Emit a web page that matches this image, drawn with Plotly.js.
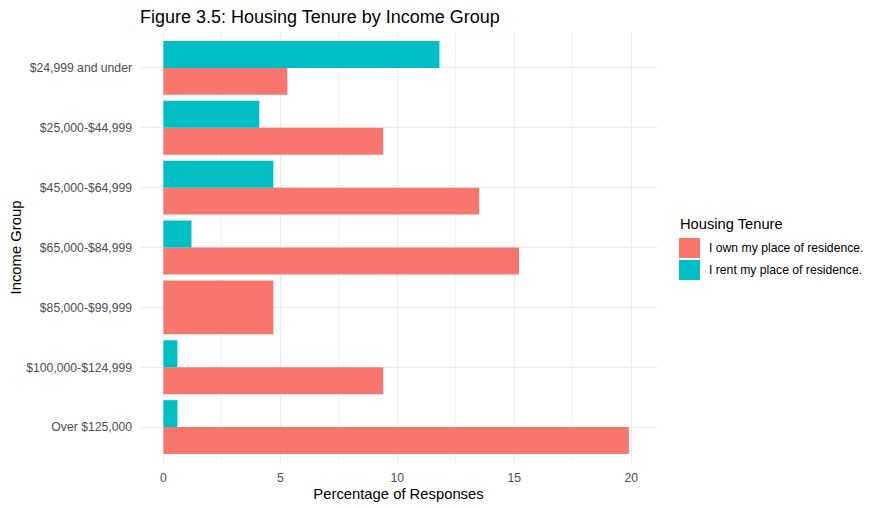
<!DOCTYPE html>
<html>
<head>
<meta charset="utf-8">
<script src="https://cdn.plot.ly/plotly-3.0.1.min.js"></script>
<style>html,body{margin:0;padding:0;background:#fff;}#chart{width:879px;height:508px;}</style>
</head>
<body>
<div id="chart"></div>
<script>
// Data
const incomeGroups = ["$24,999 and under", "$25,000-$44,999", "$45,000-$64,999", "$65,000-$84,999", "$85,000-$99,999", "$100,000-$124,999", "Over $125,000"];
const ownPct  = [5.3, 9.4, 13.5, 15.2, 4.7, 9.4, 19.9];
const rentPct = [11.8, 4.1, 4.7, 1.2, null, 0.6, 0.6];
const seriesNames = ["I own my place of residence.", "I rent my place of residence."];
const seriesColors = ["#F8766D", "#00BFC4"];
const xTicks = [0, 5, 10, 15, 20];

const FONT = "Liberation Sans, Arial, sans-serif";

// dodge: if a group has only one series, that bar fills the full slot
const hasRent = rentPct.map(v => v !== null && v !== undefined);
const ownWidth  = incomeGroups.map((_, i) => hasRent[i] ? 0.45 : 0.9);
const ownOffset = incomeGroups.map((_, i) => hasRent[i] ? 0 : -0.45);

const traces = [
  {
    type: 'bar', orientation: 'h', name: seriesNames[0],
    y: incomeGroups, x: ownPct,
    width: ownWidth, offset: ownOffset,
    marker: {color: seriesColors[0], line: {width: 0}},
    showlegend: false, hoverinfo: 'x+y+name'
  },
  {
    type: 'bar', orientation: 'h', name: seriesNames[1],
    y: incomeGroups, x: rentPct,
    width: 0.45, offset: -0.45,
    marker: {color: seriesColors[1], line: {width: 0}},
    showlegend: false, hoverinfo: 'x+y+name'
  }
];

const W = 879, H = 508;
const mL = 140, mR = W - 657, mT = 32, mB = H - 463;
const pw = W - mL - mR, ph = H - mT - mB;
function px2paperX(px) { return (px - mL) / pw; }
function px2paperY(py) { return 1 - (py - mT) / ph; }

// Manual legend (ggplot-style keys)
const shapes = [];
const annotations = [];
const legX0 = 679, legKeyW = 21, legKeyH = 20;
const legY = [238, 260];
annotations.push({
  xref: 'paper', yref: 'paper', x: px2paperX(legX0 - 1), y: px2paperY(224),
  xanchor: 'left', yanchor: 'middle', text: 'Housing Tenure', showarrow: false,
  font: {family: FONT, size: 14.7, color: '#000000'}
});
seriesNames.forEach((nm, i) => {
  shapes.push({
    type: 'rect', xref: 'paper', yref: 'paper', layer: 'above',
    x0: px2paperX(legX0), x1: px2paperX(legX0 + legKeyW),
    y0: px2paperY(legY[i]), y1: px2paperY(legY[i] + legKeyH),
    fillcolor: seriesColors[i], line: {width: 0}
  });
  annotations.push({
    xref: 'paper', yref: 'paper', x: px2paperX(legX0 + legKeyW + 7), y: px2paperY(legY[i] + legKeyH / 2),
    xanchor: 'left', yanchor: 'middle', text: nm, showarrow: false,
    font: {family: FONT, size: 12.2, color: '#000000'}
  });
});

const layout = {
  width: W, height: H,
  margin: {l: mL, r: mR, t: mT, b: mB, pad: 0},
  paper_bgcolor: '#ffffff', plot_bgcolor: '#ffffff',
  barmode: 'overlay',
  font: {family: FONT, color: '#4D4D4D'},
  title: {
    text: 'Figure 3.5: Housing Tenure by Income Group',
    font: {family: FONT, size: 18, color: '#000000'},
    x: px2paperX(140), xref: 'paper', xanchor: 'left',
    y: 1 - 17 / H, yref: 'container', yanchor: 'middle'
  },
  xaxis: {
    range: [-1.0, 21.1],
    tickvals: xTicks, ticktext: xTicks.map(String),
    ticks: '', showline: false, zeroline: false,
    showgrid: true, gridcolor: '#EBEBEB', gridwidth: 1,
    minor: {tick0: 2.5, dtick: 5, showgrid: true, gridcolor: '#F3F3F3', gridwidth: 1, ticks: ''},
    tickfont: {family: FONT, size: 12.2, color: '#4D4D4D'},
    ticklabelstandoff: 6,
    title: {text: 'Percentage of Responses', font: {family: FONT, size: 14.8, color: '#000000'}, standoff: 4},
    fixedrange: true
  },
  yaxis: {
    type: 'category',
    categoryorder: 'array', categoryarray: incomeGroups,
    range: [6.6, -0.6],
    ticks: '', showline: false, zeroline: false,
    showgrid: true, gridcolor: '#EBEBEB', gridwidth: 1,
    tickfont: {family: FONT, size: 12.2, color: '#4D4D4D'},
    ticklabelstandoff: 7,
    title: {text: 'Income Group', font: {family: FONT, size: 14.8, color: '#000000'}, standoff: 1},
    fixedrange: true
  },
  shapes: shapes,
  annotations: annotations,
  showlegend: false
};

Plotly.newPlot('chart', traces, layout, {displayModeBar: false, staticPlot: true});
</script>
</body>
</html>
